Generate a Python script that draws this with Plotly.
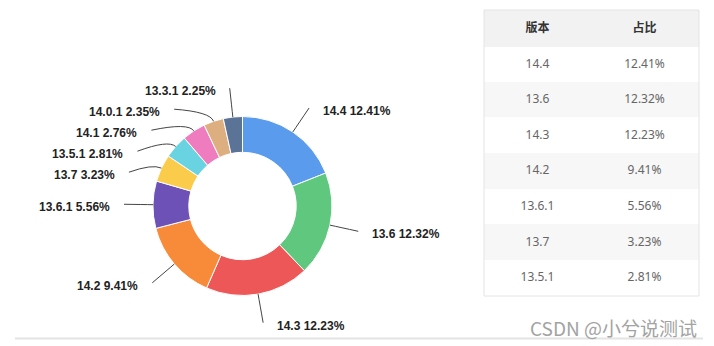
import math
import plotly.graph_objects as go

# ---------------- data ----------------
versions = ["14.4", "13.6", "14.3", "14.2", "13.6.1", "13.7", "13.5.1", "14.1", "14.0.1", "13.3.1"]
shares = [12.41, 12.32, 12.23, 9.41, 5.56, 3.23, 2.81, 2.76, 2.35, 2.25]
colors = ["#5B9BED", "#60C77E", "#EE5758", "#F88B3A", "#6E51B6",
          "#FBCB4B", "#6AD3E1", "#F07CC0", "#DDAF80", "#5B7396"]
table_header = ["版本", "占比"]
table_row_count = 7
watermark = "CSDN @小兮说测试"

# ---------------- layout constants ----------------
W, H = 714, 346
CX, CY, R_OUT = 242.5, 206.0, 89.5
HOLE = 0.6
LABEL_R = 118.5
LINE_L1 = 10.0
STEP = 21.0
TXT_GAP = 12.0

def px(x):
    return x / W

def py(y):
    return 1 - y / H

fig = go.Figure()

fig.add_trace(go.Pie(
    labels=versions,
    values=shares,
    sort=False,
    direction="clockwise",
    rotation=0,
    hole=HOLE,
    textinfo="none",
    marker=dict(colors=colors, line=dict(color="white", width=1)),
    domain=dict(x=[px(CX - R_OUT), px(CX + R_OUT)], y=[py(CY + R_OUT), py(CY - R_OUT)]),
    showlegend=False,
    hoverinfo="label+percent",
))

# ---------------- outside labels with leader lines ----------------
total = sum(shares)
cum = 0.0
items = []
for v, s in zip(versions, shares):
    th = (cum + s / 2) / total * 2 * math.pi
    cum += s
    sx, cy_ = math.sin(th), -math.cos(th)
    side = 1 if sx >= 0 else -1
    items.append(dict(
        text=f"{v} {s:.2f}%",
        th=th, side=side,
        p1=(CX + R_OUT * sx, CY + R_OUT * cy_),
        p2=(CX + (R_OUT + LINE_L1) * sx, CY + (R_OUT + LINE_L1) * cy_),
        ny=CY + LABEL_R * cy_,
        nx=CX + LABEL_R * sx,
    ))

for side in (1, -1):
    grp = sorted([it for it in items if it["side"] == side], key=lambda it: it["ny"])
    prev = None
    for it in grp:
        y = it["ny"] if prev is None else max(it["ny"], prev + STEP)
        it["y"] = y
        prev = y
        if abs(y - it["ny"]) > 0.01:
            dy = y - CY
            it["x"] = CX + side * math.sqrt(max(LABEL_R ** 2 - dy ** 2, 0))
        else:
            it["x"] = it["nx"]

shapes = []
annotations = []
for it in items:
    (x1, y1), (x2, y2) = it["p1"], it["p2"]
    x3, y3 = it["x"], it["y"]
    path = (f"M {px(x1):.5f},{py(y1):.5f} Q {px(x2):.5f},{py(y2):.5f} "
            f"{px(x3):.5f},{py(y3):.5f}")
    shapes.append(dict(type="path", xref="paper", yref="paper", path=path,
                       line=dict(color="#444444", width=1)))
    annotations.append(dict(
        x=px(x3 + it["side"] * TXT_GAP), y=py(y3), xref="paper", yref="paper",
        xanchor="left" if it["side"] > 0 else "right", yanchor="middle",
        yshift=-3,
        text=it["text"], showarrow=False,
        font=dict(family="Liberation Sans, Arial, sans-serif", size=12, color="#222222", weight=700),
    ))

# ---------------- table ----------------
TBL_L, TBL_R, TBL_T, TBL_B = 484, 699, 10, 296
HEAD_H = 36.5
n = table_row_count
row_h = (TBL_B - TBL_T - HEAD_H) / n
row_fill = ["#ffffff" if i % 2 == 0 else "#f7f7f7" for i in range(n)]
CELL_FS = 12

def cell_txt(t):
    # empty small first line pushes the value to the vertical middle of the row
    return f"<br><span style='font-size:{CELL_FS}px'>{t}</span>"

fig.add_trace(go.Table(
    domain=dict(x=[px(TBL_L), px(TBL_R)], y=[py(TBL_B), py(TBL_T)]),
    columnwidth=[1, 1],
    header=dict(
        values=[f"<b>{h}</b>" for h in table_header],
        fill_color="#f2f2f2",
        line=dict(color="#f2f2f2", width=1),
        align="center",
        height=HEAD_H,
        font=dict(family="Noto Sans CJK SC, sans-serif", size=12, color="#333333"),
    ),
    cells=dict(
        values=[[cell_txt(v) for v in versions[:n]],
                [cell_txt(f"{s:.2f}%") for s in shares[:n]]],
        fill_color=[row_fill, row_fill],
        line=dict(color=[row_fill, row_fill], width=1),
        align="center",
        height=row_h,
        font=dict(family="Noto Sans, sans-serif", size=7, color="#666666"),
    ),
))

# table outline
shapes.append(dict(type="rect", xref="paper", yref="paper",
                   x0=px(TBL_L), x1=px(TBL_R), y0=py(TBL_B), y1=py(TBL_T),
                   line=dict(color="#e4e4e4", width=1), fillcolor="rgba(0,0,0,0)"))

# bottom separator line
shapes.append(dict(type="line", xref="paper", yref="paper",
                   x0=px(15), x1=px(703), y0=py(338.5), y1=py(338.5),
                   line=dict(color="#e4e4e4", width=2)))

annotations.append(dict(
    x=px(699), y=py(327), xref="paper", yref="paper",
    xanchor="right", yanchor="middle", text=watermark, showarrow=False,
    font=dict(family="Noto Sans CJK SC, sans-serif", size=19, color="#a3a3a3"),
))

fig.update_layout(
    width=W, height=H,
    margin=dict(l=0, r=0, t=0, b=0),
    paper_bgcolor="white", plot_bgcolor="white",
    shapes=shapes, annotations=annotations,
)

fig.write_html("out.html", config={"displayModeBar": False})
